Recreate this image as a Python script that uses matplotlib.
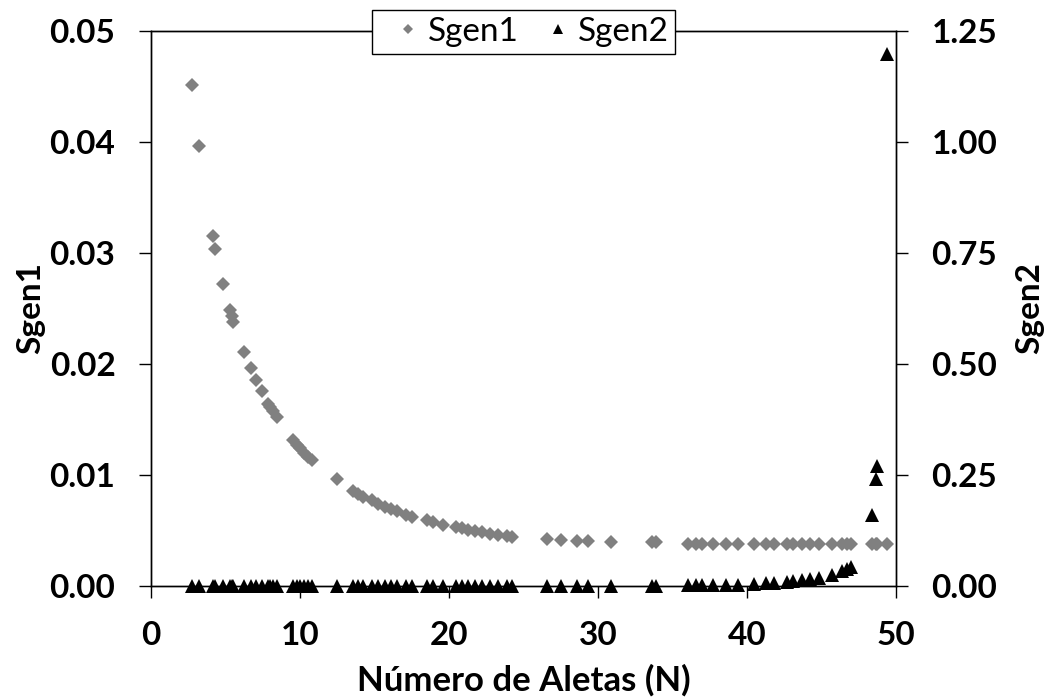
import matplotlib
matplotlib.use("Agg")
import matplotlib.pyplot as plt
from matplotlib.ticker import MultipleLocator, FormatStrFormatter

plt.rcParams['font.family'] = ['Lato', 'DejaVu Sans']
plt.rcParams['font.weight'] = 'bold'

# Number of fins (shared x for both series)
n_fins = [2.73, 3.2, 4.14, 4.32, 4.83, 5.3, 5.41, 5.5, 6.24, 6.69, 7.05, 7.43,
          7.87, 8.0, 8.2, 8.45, 9.55, 9.8, 10.0, 10.3, 10.55, 10.8, 12.46, 13.58,
          13.9, 14.2, 14.8, 15.26, 15.7, 16.1, 16.5, 17.1, 17.5, 18.5, 18.95, 19.6,
          20.5, 20.85, 21.3, 21.74, 22.2, 22.75, 23.3, 23.87, 24.2, 26.56, 27.5,
          28.57, 29.35, 30.9, 33.6, 33.9, 36.06, 36.6, 36.96, 37.7, 38.6, 39.4,
          40.5, 41.3, 41.8, 42.7, 43.1, 43.7, 44.2, 44.8, 45.7, 46.35, 46.7, 47.0,
          48.4, 48.65, 48.75, 49.4]

sgen1 = [0.0451, 0.0396, 0.0315, 0.0303, 0.0272, 0.0248, 0.0243, 0.0238, 0.0211,
         0.0196, 0.0185, 0.0175, 0.0164, 0.0161, 0.0157, 0.0152, 0.0131, 0.0127,
         0.0124, 0.0120, 0.0116, 0.0113, 0.0096, 0.0085, 0.0083, 0.0080, 0.0077,
         0.0074, 0.0071, 0.0069, 0.0067, 0.0064, 0.0062, 0.0059, 0.0057, 0.0055,
         0.0053, 0.0052, 0.0050, 0.0049, 0.0048, 0.0047, 0.0046, 0.0045, 0.0044,
         0.0042, 0.0041, 0.0040, 0.0040, 0.0039, 0.0039, 0.0039, 0.0038, 0.0038,
         0.0038, 0.0038, 0.0038, 0.0038, 0.0038, 0.0038, 0.0038, 0.0038, 0.0038,
         0.0038, 0.0038, 0.0038, 0.0038, 0.0038, 0.0038, 0.0038, 0.0038, 0.0038,
         0.0038, 0.0038]

sgen2 = [0.0] * 52 + [0.001, 0.001, 0.001, 0.001, 0.002, 0.002, 0.003, 0.005,
                      0.007, 0.009, 0.011, 0.013, 0.015, 0.018, 0.024, 0.032,
                      0.037, 0.043, 0.159, 0.240, 0.270, 1.197]

x_ticks = [0, 10, 20, 30, 40, 50]

fig = plt.figure(figsize=(10.47, 7.0), dpi=100)
ax1 = fig.add_axes([0.1442, 0.1633, 0.7116, 0.7927])
ax2 = ax1.twinx()

h1, = ax1.plot(n_fins, sgen1, linestyle='none', marker='D', markersize=7.3,
               color='#808080', markeredgewidth=0, label='Sgen1', clip_on=False)
h2, = ax2.plot(n_fins, sgen2, linestyle='none', marker='^', markersize=10,
               color='black', markeredgewidth=0, label='Sgen2', clip_on=False)

ax1.set_xlim(0, 50)
ax1.set_ylim(0, 0.05)
ax2.set_ylim(0, 1.25)
ax1.set_xticks(x_ticks)
ax1.yaxis.set_major_locator(MultipleLocator(0.01))
ax2.yaxis.set_major_locator(MultipleLocator(0.25))
ax1.yaxis.set_major_formatter(FormatStrFormatter('%.2f'))
ax2.yaxis.set_major_formatter(FormatStrFormatter('%.2f'))

for ax in (ax1, ax2):
    ax.tick_params(direction='out', length=8.6, width=1.0, labelsize=24, pad=17)
    for sp in ax.spines.values():
        sp.set_linewidth(1.0)
        sp.set_color('black')

ax1.set_xlabel('Número de Aletas (N)', fontsize=25, fontweight='bold')
ax1.set_ylabel('Sgen1', fontsize=24, fontweight='bold')
ax2.set_ylabel('Sgen2', fontsize=24, fontweight='bold')
ax1.xaxis.set_label_coords(0.5, -0.17)
ax1.xaxis.label.set_va('center')
ax1.yaxis.set_label_coords(-0.161, 0.5)
ax1.yaxis.label.set_va('center')
ax2.yaxis.set_label_coords(1.179, 0.5)
ax2.yaxis.label.set_va('center')

leg = ax2.legend(handles=[h1, h2], loc='upper center', bbox_to_anchor=(0.5, 1.037),
                 ncol=2, frameon=True, fancybox=False, borderaxespad=0,
                 prop={'family': ['Lato', 'DejaVu Sans'], 'weight': 'normal', 'size': 24},
                 handlelength=1.78, handletextpad=-0.31, columnspacing=0.3,
                 borderpad=0.2, markerscale=0.65)
leg.get_frame().set_edgecolor('black')
leg.get_frame().set_linewidth(1.0)
leg.get_frame().set_alpha(1.0)
leg.set_zorder(10)

fig.savefig('out.png', dpi=100)
